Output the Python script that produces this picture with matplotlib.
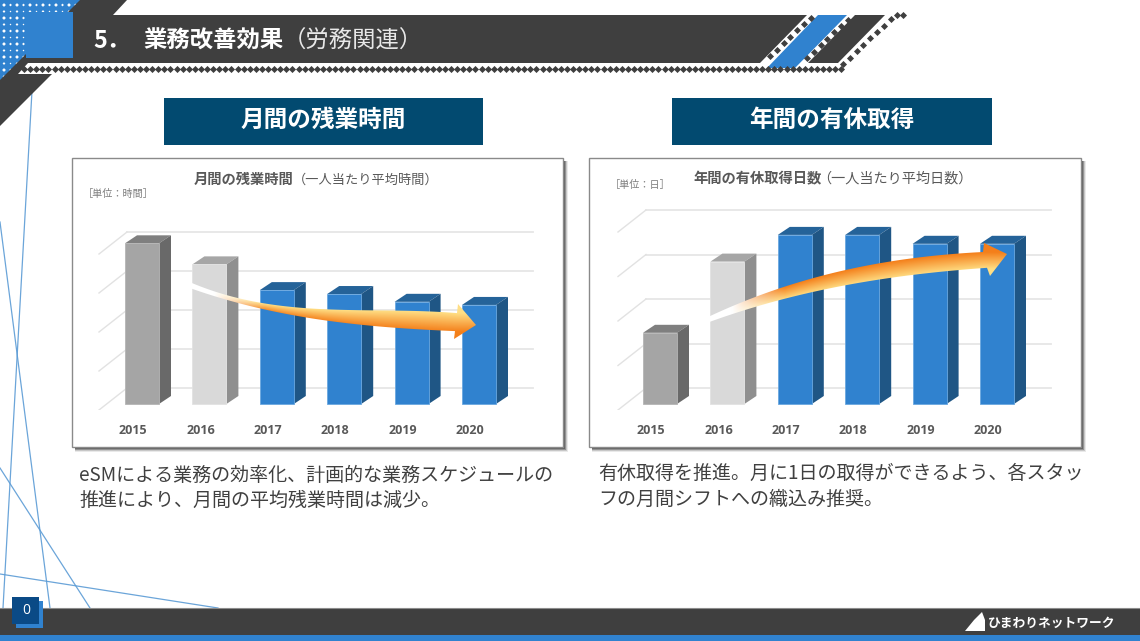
import numpy as np
from matplotlib import pyplot as plt
from matplotlib.colors import to_rgb
from matplotlib.patches import Polygon, Rectangle, PathPatch
from matplotlib.path import Path

plt.rcParams['font.family'] = ['Noto Sans CJK JP', 'DejaVu Sans']

W, H = 1140, 641

# Chart data
years = ['2015', '2016', '2017', '2018', '2019', '2020']
overtime_hours = [20.6, 17.9, 14.6, 14.1, 13.1, 12.7]
paid_leave_days = [3.2, 6.4, 7.6, 7.6, 7.2, 7.2]
overtime_ticks = [0, 5, 10, 15, 20]
leave_ticks = [0, 2, 4, 6, 8]

DARK = '#3f3f3f'
BLUE = '#3082cf'
NAVY = '#024a70'
GRAY_TEXT = '#595959'
BODY_TEXT = '#404040'
LINE_BLUE = '#5b9bd5'

# front, top, side, edge for each bar
GRAY_BAR = ('#a5a5a5', '#7f7f7f', '#696969', '#b5b5b5')
PALE_BAR = ('#d9d9d9', '#a6a6a6', '#8f8f8f', '#e2e2e2')
BLUE_BAR = (BLUE, '#256399', '#1f5685', '#6aa8e0')
bar_styles = [GRAY_BAR, PALE_BAR, BLUE_BAR, BLUE_BAR, BLUE_BAR, BLUE_BAR]

fig = plt.figure(figsize=(W / 100, H / 100), dpi=100, facecolor='white')


def pixel_axes(zorder):
    ax = fig.add_axes([0, 0, 1, 1], zorder=zorder)
    ax.set_xlim(0, W)
    ax.set_ylim(H, 0)
    ax.axis('off')
    ax.patch.set_alpha(0)
    return ax


bg = pixel_axes(0)
top = pixel_axes(2)

# Thin background lines
for x0, y0, x1, y1 in [(33, 73, 3, 608), (0, 222, 50, 608), (0, 468, 90, 608), (0, 574, 218, 608)]:
    bg.plot([x0, x1], [y0, y1], color=LINE_BLUE, lw=0.9, alpha=0.9, zorder=1)

# Header: patterned corner
gx, gy = np.meshgrid(np.arange(0, 84, 6.5), np.arange(1, 84, 6.5))
keep = gx + gy < 80
bg.scatter(gx[keep], gy[keep], marker='D', s=27, color=BLUE, lw=0, zorder=2)

# Header: dark shapes
bg.add_patch(Polygon([(0, 80), (80, 0), (127, 0), (113, 15), (807, 15), (760, 63), (62, 63), (52, 74), (0, 126)],
                     color=DARK, lw=0, zorder=3))
bg.add_patch(Polygon([(855, 15), (885, 15), (838, 63), (808, 63)], color=DARK, lw=0, zorder=3))
bg.add_patch(Polygon([(18, 74), (28, 63), (845, 63), (835, 74)], color='white', lw=0, zorder=4))
bg.add_patch(Polygon([(818, 15), (847, 15), (795, 68), (767, 68)], color=BLUE, lw=0, zorder=5))
bg.add_patch(Rectangle((26, 12), 47, 46, color=BLUE, lw=0, zorder=5))

# Header: dotted strip and dotted diagonals
sx = np.arange(24, 842, 6.1)
bg.scatter(sx, np.full(len(sx), 69), marker='D', s=13, color=DARK, lw=0, zorder=6)
for start, n in [((770, 56), 7), ((807, 58), 7), ((843, 64), 8)]:
    t = np.arange(n)
    bg.scatter(start[0] + t * 6.8, start[1] - t * 6.4, marker='D', s=13, color=DARK, lw=0, zorder=6)
bg.scatter([897, 903], [15, 15], marker='D', s=13, color=DARK, lw=0, zorder=6)

bg.text(93, 41, '5．', color='white', fontsize=16.8, fontweight='bold', va='center', zorder=7)
bg.text(143, 41, '業務改善効果', color='white', fontsize=16.8, fontweight='bold', va='center', zorder=7)
bg.text(283, 41, '（労務関連）', color='#e8e8e8', fontsize=16.8, va='center', zorder=7)

# Footer
bg.add_patch(Rectangle((0, 608), W, 27, color=DARK, lw=0, zorder=3))
bg.plot([0, W], [608, 608], color='#8c8c8c', lw=0.8, zorder=3)
bg.add_patch(Rectangle((0, 635), W, 6, color=BLUE, lw=0, zorder=3))
bg.add_patch(Rectangle((16, 601), 27, 27, color=BLUE, lw=0, zorder=4))
bg.add_patch(Rectangle((12, 597), 27, 27, color='#0a4a86', lw=0, zorder=5))
bg.text(26, 611, '0', color='white', fontsize=10, ha='center', va='center', family='Open Sans', zorder=6)
bg.add_patch(Polygon([(965, 631), (974, 620), (982, 612), (985, 620), (985, 631)], color='white', lw=0, zorder=5))
bg.text(988, 623, 'ひまわりネットワーク', color='white', fontsize=9.2, fontweight='bold', va='center', zorder=5)


def draw_card(x0, y0, x1, y1):
    # Soft shadow on the right and bottom, then the white card
    for off, alpha in [(5, 0.10), (4, 0.18), (3, 0.35), (2, 0.45)]:
        bg.add_patch(Rectangle((x0 + 3, y0 + 3), x1 - x0 - 3 + off, y1 - y0 - 3 + off,
                               color='#303030', alpha=alpha, lw=0, zorder=2))
    bg.add_patch(Rectangle((x0, y0), x1 - x0, y1 - y0, facecolor='white', edgecolor='#8a8a8a',
                           lw=1, zorder=3))


def draw_chart(card, center0, values, ticks, px_per_unit, wall_x0, wall_x1):
    step = 67.4
    base = 404
    floor = 410
    x0, y0, x1 = card[0], card[1], card[2]
    ax = fig.add_axes([x0 / W, 1 - floor / H, (x1 - x0) / W, (floor - y0) / H], zorder=1)
    ax.patch.set_alpha(0)
    ax.set_xlim((x0 - center0) / step, (x1 - center0) / step)
    ax.set_ylim((base - floor) / px_per_unit, (base - y0) / px_per_unit)
    for s in ax.spines.values():
        s.set_visible(False)

    ux = 1 / step
    uy = 1 / px_per_unit
    wall = 16 * uy
    x = np.arange(len(values))
    half = 17 * ux
    dx = 12 * ux
    dy = 8 * uy

    # Gridlines on the back wall with a diagonal on the side wall
    wx0 = (wall_x0 - center0) * ux
    wx1 = (wall_x1 - center0) * ux
    for t in ticks:
        ax.plot([wx0, wx1], [t + wall, t + wall], color='#e6e6e6', lw=1.3, zorder=1)
        ax.plot([wx0 - 28 * ux, wx0], [t + wall - 22 * uy, t + wall], color='#e2e2e2', lw=1, zorder=1)

    for xi, v, style in zip(x, values, bar_styles):
        front, roof, side, edge = style
        ax.bar(xi, v, width=2 * half, color=front, edgecolor=edge, lw=0.6, zorder=3)
        ax.add_patch(Polygon([(xi - half, v), (xi + half, v), (xi + half + dx, v + dy), (xi - half + dx, v + dy)],
                             color=roof, lw=0, zorder=2))
        ax.add_patch(Polygon([(xi + half, 0), (xi + half + dx, dy), (xi + half + dx, v + dy), (xi + half, v)],
                             color=side, lw=0, zorder=2))

    ax.set_yticks([])
    ax.set_xticks(x - 9 * ux)
    ax.set_xticklabels(years, family='Open Sans', fontweight='bold', fontsize=9, color=GRAY_TEXT)
    ax.tick_params(axis='x', length=0, pad=10)
    return ax


def draw_arrow(upper, lower, head, c_top, c_bottom, fade_to):
    # Outline from upper edge, round the head, back along lower edge
    xs_u, ys_u = zip(*upper)
    xs_l, ys_l = zip(*lower)
    xu = np.linspace(xs_u[0], xs_u[-1], 60)
    cu = np.polyfit(xs_u, ys_u, 3)
    xl = np.linspace(xs_l[0], xs_l[-1], 60)
    cl = np.polyfit(xs_l, ys_l, 3)
    pts = list(zip(xu, np.polyval(cu, xu))) + head + list(zip(xl[::-1], np.polyval(cl, xl[::-1])))
    patch = PathPatch(Path(pts + [pts[0]]), facecolor='none', edgecolor='none', transform=top.transData)
    top.add_patch(patch)

    xa = [p[0] for p in pts]
    ya = [p[1] for p in pts]
    ex0, ex1 = min(xa) - 1, max(xa) + 1
    ey0, ey1 = min(ya) - 1, max(ya) + 1
    px = np.linspace(ex0, ex1, int((ex1 - ex0) * 2))
    py = np.linspace(ey0, ey1, int((ey1 - ey0) * 2))
    mx, my = np.meshgrid(px, py)
    upper_y = np.polyval(cu, np.clip(mx, xs_u[0], xs_u[-1]))
    lower_y = np.polyval(cl, np.clip(mx, xs_l[0], xs_l[-1]))
    t = np.clip((my - upper_y) / (lower_y - upper_y + 1), 0, 1)
    c0 = np.array(to_rgb(c_top))
    c1 = np.array(to_rgb(c_bottom))
    rgb = c0[None, None, :] * (1 - t[..., None]) + c1[None, None, :] * t[..., None]
    f = np.clip((mx - xs_u[0] - 22) / (fade_to - xs_u[0] - 22), 0, 1)[..., None]
    rgb = rgb * f + (1 - f)
    im = top.imshow(rgb, extent=(ex0, ex1, ey1, ey0), aspect='auto', zorder=3, interpolation='bilinear')
    im.set_clip_path(patch)
    top.set_xlim(0, W)
    top.set_ylim(H, 0)


# Left panel
bg.add_patch(Rectangle((164, 98), 319, 47, color=NAVY, lw=0, zorder=3))
bg.text(323, 120, '月間の残業時間', color='white', fontsize=17, fontweight='bold', ha='center', va='center', zorder=4)
left_card = (72, 158, 563, 447)
draw_card(*left_card)
draw_chart(left_card, 142, overtime_hours, overtime_ticks, 7.8, 127, 533)
bg.text(194, 180, '月間の残業時間', color=GRAY_TEXT, fontsize=10.3, fontweight='bold', va='center', zorder=4)
bg.text(293, 180, '（一人当たり平均時間）', color=GRAY_TEXT, fontsize=9.5, va='center', zorder=4)
bg.text(83, 194, '［単位：時間］', color='#7f7f7f', fontsize=7.3, va='center', zorder=4)
bg.text(79, 475, 'eSMによる業務の効率化、計画的な業務スケジュールの', color=BODY_TEXT, fontsize=13.7, va='center', zorder=4)
bg.text(79, 500, '推進により、月間の平均残業時間は減少。', color=BODY_TEXT, fontsize=13.7, va='center', zorder=4)

# Right panel
bg.add_patch(Rectangle((672, 98), 320, 47, color=NAVY, lw=0, zorder=3))
bg.text(832, 120, '年間の有休取得', color='white', fontsize=17, fontweight='bold', ha='center', va='center', zorder=4)
right_card = (589, 158, 1081, 447)
draw_card(*right_card)
draw_chart(right_card, 660, paid_leave_days, leave_ticks, 22.25, 646, 1051)
bg.text(693, 179, '年間の有休取得日数', color=GRAY_TEXT, fontsize=10.3, fontweight='bold', va='center', zorder=4)
bg.text(817, 179, '（一人当たり平均日数）', color=GRAY_TEXT, fontsize=10.2, va='center', zorder=4)
bg.text(610, 185, '［単位：日］', color='#7f7f7f', fontsize=7.3, va='center', zorder=4)
bg.text(598, 473, '有休取得を推進。月に1日の取得ができるよう、各スタッ', color=BODY_TEXT, fontsize=13.7, va='center', zorder=4)
bg.text(598, 499, 'フの月間シフトへの織込み推奨。', color=BODY_TEXT, fontsize=13.7, va='center', zorder=4)

# Gradient arrows over the bars
draw_arrow([(192, 283), (223, 294), (260, 303), (330, 309), (400, 311), (457, 313)],
           [(192, 288), (213, 297), (247, 305), (313, 318), (380, 327), (455, 331)],
           [(458, 304), (476, 325), (454, 339)],
           '#ffdf85', '#f47f1a', 265)
draw_arrow([(710, 316), (743, 302), (780, 288), (833, 273), (900, 260), (983, 252)],
           [(710, 322), (750, 308), (800, 295), (867, 282), (933, 272), (987, 268)],
           [(984, 243), (1007, 254), (990, 276)],
           '#f47f1a', '#ffdf85', 785)

fig.savefig('out.png', dpi=100)
